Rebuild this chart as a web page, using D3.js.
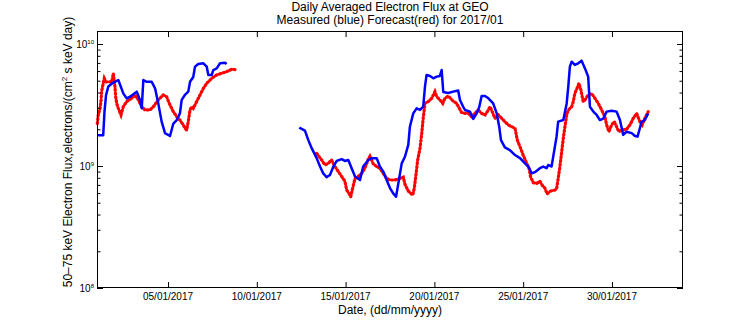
<!DOCTYPE html>
<html><head><meta charset="utf-8">
<script src="https://cdn.jsdelivr.net/npm/d3@7"></script>
<style>body{margin:0;background:#fff}svg{display:block}text{font-family:"Liberation Sans",Arial,sans-serif;fill:#000}</style>
</head><body><svg id="c" width="756" height="324"></svg>
<script>
// ---- data (day of January 2017, fractional; flux in electrons/(cm^2 s keV day)) ----
const measuredDays = [1.02,1.35,1.42,1.51,1.64,1.83,2.20,2.48,2.67,2.86,3.24,3.42,3.52,3.61,3.80,4.08,4.27,4.45,4.64,4.83,5.11,5.30,5.49,5.67,5.77,5.95,6.14,6.24,6.42,6.52,6.70,6.99,7.18,7.27,7.46,7.55,7.74,7.93,8.21,8.30,
 null,
 12.39,12.71,12.90,13.09,13.37,13.56,13.74,13.93,14.12,14.31,14.50,14.78,14.96,15.15,15.34,15.53,15.81,15.99,16.28,16.47,16.75,16.93,17.12,17.31,17.50,17.68,17.84,17.97,18.16,18.34,18.53,18.62,18.81,19.00,19.19,19.37,19.47,19.56,19.75,19.94,20.13,20.31,20.41,20.50,20.78,21.06,21.34,21.44,21.62,21.72,22.00,22.19,22.38,22.53,22.66,22.85,23.04,23.31,23.51,23.65,23.75,23.97,24.25,24.54,24.82,25.10,25.29,25.48,25.66,25.94,26.13,26.32,26.41,26.60,26.69,26.88,26.97,27.26,27.45,27.54,27.63,27.73,27.91,28.10,28.29,28.48,28.66,28.76,28.95,29.14,29.32,29.51,29.70,29.98,30.26,30.45,30.63,30.82,31.11,31.30,31.44,31.57,31.67,31.85,32.04];
const measuredFlux = [1.79e9,1.79e9,2.77e9,3.82e9,4.49e9,4.73e9,5.07e9,3.94e9,3.58e9,3.70e9,4.07e9,3.48e9,2.97e9,5.07e9,4.90e9,4.90e9,4.33e9,3.26e9,2.31e9,1.86e9,1.76e9,2.23e9,2.38e9,2.70e9,3.48e9,3.82e9,4.07e9,4.90e9,5.37e9,6.52e9,6.86e9,6.95e9,6.52e9,5.58e9,5.58e9,6.12e9,6.31e9,6.95e9,7.03e9,6.86e9,
 null,
 2.06e9,1.95e9,1.63e9,1.40e9,1.16e9,9.9e8,8.7e8,8.1e8,8.44e8,9.9e8,1.10e9,1.14e9,1.10e9,1.12e9,9.6e8,8.2e8,7.68e8,9.9e8,1.12e9,1.16e9,1.16e9,9.9e8,9.0e8,7.68e8,6.6e8,5.96e8,5.6e8,7.2e8,1.05e9,1.19e9,1.49e9,2.10e9,2.70e9,2.97e9,2.88e9,3.06e9,4.47e9,5.58e9,5.47e9,5.23e9,5.40e9,5.47e9,6.12e9,4.04e9,3.97e9,4.07e9,4.16e9,3.48e9,3.06e9,2.88e9,2.79e9,2.43e9,2.70e9,3.06e9,3.75e9,3.75e9,3.59e9,3.26e9,2.70e9,2.10e9,1.63e9,1.42e9,1.35e9,1.23e9,1.16e9,1.05e9,9.9e8,8.7e8,8.9e8,9.6e8,9.9e8,9.6e8,1.02e9,9.9e8,1.19e9,1.74e9,2.31e9,2.38e9,3.26e9,4.47e9,6.52e9,7.16e9,6.73e9,6.95e9,7.30e9,6.31e9,5.40e9,3.06e9,2.79e9,2.62e9,2.38e9,2.45e9,2.79e9,2.84e9,2.79e9,2.38e9,1.80e9,1.91e9,1.86e9,1.76e9,1.74e9,2.04e9,2.31e9,2.38e9,2.70e9];

const forecastDays = [1.02,1.07,1.17,1.23,1.26,1.35,1.41,1.51,1.64,1.83,1.92,2.01,2.05,2.11,2.20,2.35,2.48,2.67,2.95,3.14,3.33,3.52,3.70,3.98,4.17,4.45,4.73,4.92,5.11,5.30,5.49,5.67,5.86,5.95,6.05,6.14,6.24,6.33,6.42,6.61,6.80,6.99,7.18,7.46,7.74,8.02,8.30,8.58,8.87,
 null,
 13.37,13.65,13.84,14.02,14.21,14.40,14.59,14.78,14.96,15.06,15.15,15.29,15.40,15.53,15.71,15.90,16.09,16.28,16.37,16.56,16.75,16.93,17.12,17.31,17.50,17.78,18.06,18.25,18.34,18.53,18.78,18.87,18.96,19.06,19.19,19.28,19.37,19.47,19.65,19.85,20.03,20.13,20.31,20.47,20.59,20.78,21.06,21.25,21.53,21.72,21.91,22.10,22.28,22.47,22.66,22.85,23.04,23.13,23.22,23.41,23.60,23.79,23.97,24.16,24.35,24.54,24.67,24.82,25.00,25.20,25.34,25.42,25.57,25.76,25.94,26.09,26.22,26.35,26.51,26.79,26.88,26.97,27.07,27.17,27.26,27.35,27.45,27.54,27.73,27.82,27.91,28.07,28.14,28.25,28.38,28.48,28.66,28.85,29.04,29.23,29.42,29.60,29.70,29.83,29.98,30.13,30.26,30.39,30.54,30.82,31.01,31.20,31.39,31.57,31.70,31.85,32.04];
const forecastFlux = [2.23e9,2.62e9,2.97e9,3.48e9,4.07e9,4.76e9,5.23e9,4.90e9,4.90e9,4.90e9,5.74e9,4.47e9,3.70e9,3.26e9,2.97e9,2.62e9,3.06e9,3.37e9,3.59e9,3.82e9,3.48e9,3.06e9,2.88e9,2.88e9,3.06e9,3.48e9,3.82e9,3.70e9,3.16e9,2.79e9,2.53e9,2.38e9,2.17e9,2.04e9,1.97e9,2.31e9,2.88e9,3.06e9,2.97e9,3.37e9,3.82e9,4.33e9,4.76e9,5.23e9,5.58e9,5.75e9,5.93e9,6.20e9,6.16e9,
 null,
 1.27e9,1.12e9,1.02e9,1.05e9,1.12e9,9.9e8,9.0e8,8.2e8,7.5e8,6.36e8,6.1e8,5.6e8,6.6e8,7.9e8,8.2e8,8.7e8,9.6e8,1.14e9,1.20e9,1.04e9,9.9e8,9.6e8,8.7e8,7.9e8,7.68e8,7.68e8,7.9e8,8.1e8,7.1e8,6.24e8,5.78e8,6.6e8,8.44e8,1.12e9,1.40e9,1.80e9,2.46e9,3.26e9,3.37e9,3.59e9,4.07e9,3.70e9,3.48e9,3.26e9,3.59e9,3.75e9,3.40e9,3.26e9,2.75e9,2.70e9,2.70e9,2.53e9,2.70e9,2.88e9,2.70e9,2.62e9,2.88e9,3.06e9,2.88e9,2.46e9,2.62e9,2.46e9,2.31e9,2.17e9,2.10e9,2.04e9,1.63e9,1.44e9,1.23e9,1.05e9,9.5e8,8.1e8,7.3e8,7.2e8,7.5e8,6.9e8,6.6e8,5.9e8,6.2e8,6.36e8,6.5e8,7.9e8,9.9e8,1.31e9,1.69e9,2.10e9,2.62e9,2.88e9,3.06e9,3.37e9,3.94e9,4.47e9,4.76e9,4.20e9,3.37e9,3.48e9,3.82e9,3.94e9,3.59e9,3.26e9,2.88e9,2.54e9,2.17e9,1.91e9,2.17e9,2.31e9,2.10e9,1.91e9,1.97e9,2.00e9,2.17e9,2.46e9,2.70e9,2.31e9,2.17e9,2.46e9,2.79e9];

const xTickDays = [5,10,15,20,25,30];
const yMajorTicks = [1e8,1e9,1e10];
const yTickExponents = ["8","9","10"];
const titleLines = ["Daily Averaged Electron Flux at GEO","Measured (blue) Forecast(red) for 2017/01"];
const xLabel = "Date, (dd/mm/yyyy)";

// ---- chart ----
const svg = d3.select("#c");
const L = 97, R = 683, T = 31, B = 288;
const toDate = d => new Date(Date.UTC(2017,0,1) + (d-1)*86400000);
const x = d3.scaleUtc().domain([toDate(1), toDate(34)]).range([L, R]);
const y = d3.scaleLog().domain([1e8, 1e10]).range([B, 44]);
const fmt = d3.utcFormat("%d/%m/%Y");

svg.append("rect").attr("width",756).attr("height",324).attr("fill","#fff");

// lines
const mk = (days, vals) => days.map((d,i)=> d==null ? null : {t:toDate(d), v:vals[i]});
const line = d3.line().defined(p=>p!=null).x(p=>x(p.t)).y(p=>y(p.v));
svg.append("path").datum(mk(forecastDays, forecastFlux)).attr("d", line)
  .attr("fill","none").attr("stroke","#ff0000").attr("stroke-width",3.2)
  .attr("stroke-dasharray","1.2 2.6").attr("stroke-linecap","round");
svg.append("path").datum(mk(measuredDays, measuredFlux)).attr("d", line)
  .attr("fill","none").attr("stroke","#0000ff").attr("stroke-width",2.5)
  .attr("stroke-linejoin","round");

// axes (inward ticks, MATLAB-like box)
const xTicks = xTickDays.map(toDate);
const minorT = [];
[1e8,1e9].forEach(b=>{for(let k=2;k<=9;k++) minorT.push(b*k);});

const ax = (g, a) => { g.call(a); g.select(".domain").remove(); g.selectAll("line").attr("stroke","#000"); g.selectAll("text").remove(); };
svg.append("g").attr("transform",`translate(0,${B})`).call(g=>ax(g, d3.axisTop(x).tickValues(xTicks).tickSize(6)));
svg.append("g").attr("transform",`translate(0,${T})`).call(g=>ax(g, d3.axisBottom(x).tickValues(xTicks).tickSize(6)));
svg.append("g").attr("transform",`translate(${L},0)`).call(g=>ax(g, d3.axisRight(y).tickValues(yMajorTicks).tickSize(6)));
svg.append("g").attr("transform",`translate(${L},0)`).call(g=>ax(g, d3.axisRight(y).tickValues(minorT).tickSize(3.5)));
svg.append("g").attr("transform",`translate(${R},0)`).call(g=>ax(g, d3.axisLeft(y).tickValues(yMajorTicks).tickSize(6)));
svg.append("g").attr("transform",`translate(${R},0)`).call(g=>ax(g, d3.axisLeft(y).tickValues(minorT).tickSize(3.5)));

svg.append("rect").attr("x",L+0.5).attr("y",T+0.5).attr("width",R-L-1).attr("height",B-T-1)
  .attr("fill","none").attr("stroke","#000").attr("stroke-width",1);

// x tick labels
svg.append("g").selectAll("text").data(xTicks).join("text")
  .attr("x",d=>x(d)).attr("y",B+12).attr("text-anchor","middle").attr("font-size",10).text(d=>fmt(d));

// y tick labels
const yl = svg.append("g").selectAll("text").data(yMajorTicks).join("text")
  .attr("x",94).attr("y",d=>y(d)+4).attr("text-anchor","end").attr("font-size",10);
yl.append("tspan").text("10");
yl.append("tspan").attr("dy",-4.5).attr("font-size",6).text((d,i)=>yTickExponents[i]);

// titles
svg.append("text").attr("x",(L+R)/2).attr("y",11).attr("text-anchor","middle").attr("font-size",12).text(titleLines[0]);
svg.append("text").attr("x",(L+R)/2).attr("y",24).attr("text-anchor","middle").attr("font-size",12).text(titleLines[1]);
svg.append("text").attr("x",(L+R)/2).attr("y",314).attr("text-anchor","middle").attr("font-size",12).text(xLabel);

// y label
const ylab = svg.append("text").attr("transform","translate(72,152) rotate(-90)").attr("text-anchor","middle").attr("font-size",12);
ylab.append("tspan").text("50–75 keV Electron Flux,electrons/(cm");
ylab.append("tspan").attr("dy",-5).attr("font-size",8).text("2");
ylab.append("tspan").attr("dy",5).text(" s keV day)");
</script></body></html>
